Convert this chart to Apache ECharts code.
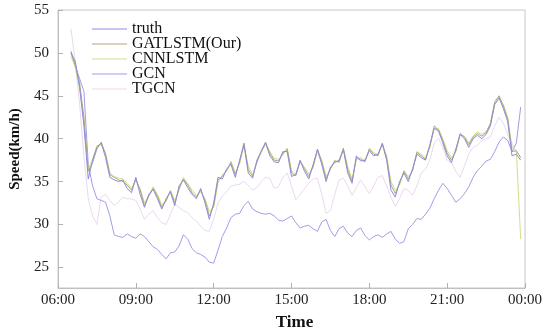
<!DOCTYPE html>
<html>
<head>
<meta charset="utf-8">
<script src="https://cdn.jsdelivr.net/npm/echarts@6/dist/echarts.min.js"></script>
<style>html,body{margin:0;padding:0;background:#fff}#c{width:550px;height:332px}</style>
</head>
<body>
<div id="c"></div>
<script>
// minutes after 06:00, 10-minute steps from 06:30
const startMinute = 30;
const stepMinutes = 10;
const xTickLabels = ['06:00','09:00','12:00','15:00','18:00','21:00','00:00'];
const seriesNames = ['truth','GATLSTM(Our)','CNNLSTM','GCN','TGCN'];

const truth = [50,49,46,41.5,35.3,37.5,39,39.5,37.8,35.5,
35.2,35,35.2,34.2,33.7,35.5,33.5,32,33.5,34.1,
33,31.8,33,33.8,32.2,34.5,35.2,34.3,33.5,33,
34.2,32.5,30.6,32.5,35.5,35.3,36.5,37,35.5,37.5,
39.3,36,35.4,37.5,38.5,39.5,38,37.3,37.2,38.5,
38.5,35.6,35.8,37.5,36.2,35.3,37,38.7,37,35,
36.7,37.2,37.5,38.7,36,34.8,38,37.4,37.5,38.6,
38,38.2,39.4,37.5,34,33.2,35,36,35,36.5,
38.2,37.8,37.5,39.3,41.2,40.9,39.5,38,37.2,38.8,
40.5,40,39,40,40.4,40,40.5,41.5,44,44.8,
43.5,42,38,38.2,37.5];

const gatlstm = [50.2,48.6,46.5,42.5,36.2,37.2,38.8,39.6,38.2,35.8,
35.5,35.2,35,34.6,34,35.3,34,32.2,33.3,34.2,
33.3,32,32.8,33.9,32.5,34.2,35.3,34.6,33.7,33.2,
34,32.8,31,32.2,35.2,35.6,36.3,37.2,35.8,37.3,
39.5,36.4,35.6,37.3,38.6,39.6,38.3,37.5,37.4,38.3,
38.8,36,35.7,37.4,36.5,35.6,36.8,38.8,37.3,35.3,
36.5,37.4,37.3,38.9,36.4,35,37.8,37.6,37.3,38.8,
38.2,38,39.5,37.8,34.6,33.6,34.8,36.2,35.3,36.3,
38.4,38,37.6,39.1,41.5,41,39.8,38.3,37.5,38.6,
40.6,40.2,39.3,40.2,40.6,40.3,40.7,41.8,44.3,45,
43.8,42.3,38.5,38.6,37.8];

const cnnlstm = [49.6,48.3,45.8,42,36.5,37.6,39.2,39.3,38.3,36,
35.6,35.4,35.3,34.8,34.2,35.1,34.2,32.5,33.4,34.4,
33.5,32.3,32.7,34,32.8,34,35.5,34.8,34,33.4,
33.8,33,31.5,32,34.8,35.8,36.2,37.4,36,37.1,
39.2,36.8,35.8,37.2,38.4,39.4,38.5,37.7,37.6,38.1,
38.9,36.3,35.9,37.2,36.7,35.9,36.6,38.6,37.5,35.6,
36.4,37.5,37.2,38.8,36.8,35.3,37.5,37.8,37.4,38.9,
38.4,38.1,39.3,38,35,34,34.6,36.3,35.6,36.2,
38.5,38.2,37.8,39,41.2,41.2,40,38.6,37.8,38.4,
40.4,40.3,39.5,40.3,40.8,40.5,40.8,41.6,44,44.6,
44,42.5,39,38.5,28.3];

const gcn = [50,48.5,47,45.5,37,34.5,33,32.8,32.6,31,
28.8,28.6,28.5,28.9,28.6,28.4,28.9,28.6,28,27.4,
27.1,26.5,26,26.7,26.8,27.5,28.8,28.3,27.2,26.7,
26.5,26.2,25.6,25.5,27,28.6,29.6,30.8,31.2,31.3,
32.2,32.7,31.8,31.5,31.3,31.2,31.3,31,30.5,30.4,
30.7,31,30.2,29.6,29.8,29.9,29.5,29.2,30.3,30.6,
29.3,28.6,29.5,29.8,29,28.6,29.3,29.6,28.7,28.2,
28.6,28.8,28.5,28.9,29.2,28.3,27.8,28,29.5,30,
30.7,30.6,31.2,31.9,33,34,34.8,34.2,33.4,32.6,
33,33.6,34.4,35.5,36.3,36.8,37.4,37.6,38.5,39.6,
40.2,39.8,38.5,39.5,43.7];

const tgcn = [52.8,49,44,38,33,31,30,33.2,33.5,32.8,
32.2,32.6,33.2,33,33,32.8,31.8,30.6,31.2,31.6,
30.8,30.2,30,31.2,32.4,32,31.6,31.4,30.8,30.4,
29.8,29.3,29.2,30.6,32.5,33.3,33.8,34.5,34.6,34.7,
35,34.6,34,34.3,35,35.5,35.4,34.2,34.4,35.5,
36,34.5,32.9,33.5,34.2,34.8,35.3,35.4,33.5,31.3,
31.6,33.5,35.2,35.4,34.5,33.4,34.3,35.2,34.4,33.6,
34.5,35.5,35.7,34.5,33.2,32.1,33,34.2,34,33.4,
34.5,36,36.5,37.5,39.5,40,39,37.5,37.2,36.2,
35.5,36.8,38.2,39,39.2,39.8,40,40.2,41.5,42.5,
41.8,40.5,39.5,38.5,37.8];

const times = truth.map((_, i) => startMinute + i * stepMinutes);
const pair = arr => arr.map((v, i) => [times[i], v]);

const colors = ['#8c8ce0', '#b3a577', '#cfe08c', '#a39ce8', '#eed8f0'];
const valueSets = [truth, gatlstm, cnnlstm, gcn, tgcn];
const serif = '"Liberation Serif", "DejaVu Serif", serif';

const chart = echarts.init(document.getElementById('c'));
chart.setOption({
  animation: false,
  backgroundColor: '#fff',
  color: colors,
  grid: { left: 58, right: 25, top: 10, bottom: 44, show: true, borderColor: '#c8c8c8', borderWidth: 1,
          containLabel: false, outerBoundsMode: 'none' },
  legend: {
    orient: 'vertical', left: 92, top: 21, padding: 0,
    icon: 'rect', itemWidth: 35, itemHeight: 1, itemGap: -1,
    textStyle: { fontFamily: serif, fontSize: 16, color: '#111' },
    data: seriesNames
  },
  xAxis: {
    type: 'value', min: 0, max: 1080, interval: 180,
    name: 'Time', nameLocation: 'middle', nameGap: 26,
    nameTextStyle: { fontFamily: serif, fontSize: 17, fontWeight: 'bold', color: '#111', padding: [0, 0, 0, 6] },
    axisLine: { lineStyle: { color: '#c0c0c0' } },
    axisTick: { inside: true, length: 5, lineStyle: { color: '#b0b0b0' } },
    splitLine: { show: false },
    axisLabel: {
      fontFamily: serif, fontSize: 15, color: '#222', margin: 5,
      formatter: v => xTickLabels[Math.round(v / 180)]
    }
  },
  yAxis: {
    type: 'value', min: 22.6, max: 55, splitNumber: 7,
    name: 'Speed(km/h)', nameLocation: 'middle', nameGap: 35, nameRotate: 90,
    nameTextStyle: { fontFamily: serif, fontSize: 15, fontWeight: 'bold', color: '#111' },
    axisLine: { show: true, lineStyle: { color: '#c0c0c0' } },
    axisTick: { show: true, inside: true, length: 5, lineStyle: { color: '#b0b0b0' } },
    splitLine: { show: false },
    axisLabel: { fontFamily: serif, fontSize: 15, color: '#222', margin: 9, showMinLabel: false }
  },
  series: seriesNames.map((n, k) => ({
    name: n, type: 'line', data: pair(valueSets[k]),
    symbol: 'none', showSymbol: false,
    lineStyle: { width: 1, color: colors[k] },
    itemStyle: { color: colors[k] },
    z: 10 - k
  }))
});
</script>
</body>
</html>
